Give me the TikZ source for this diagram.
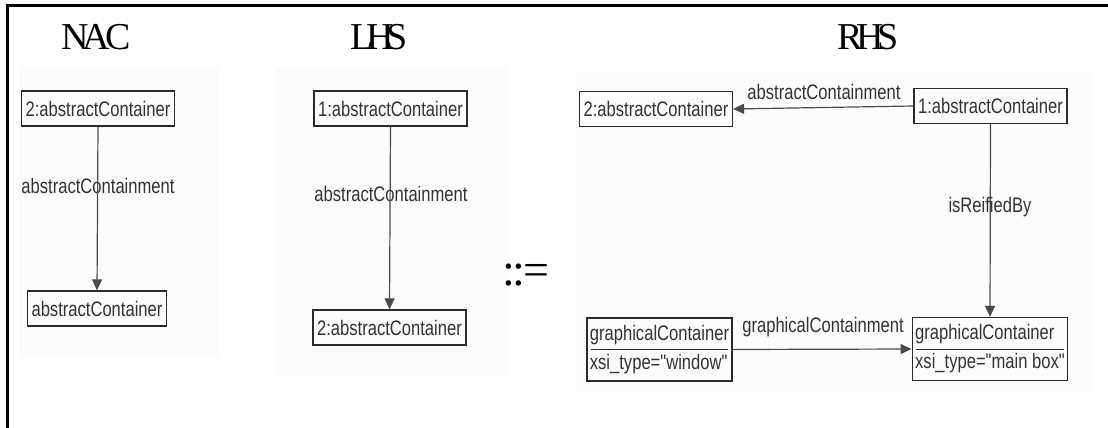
\documentclass[tikz,border=0pt]{standalone}
\usepackage{fontspec}
\usetikzlibrary{arrows.meta}
\newfontfamily\umlfont[FakeStretch=0.79]{Liberation Sans}
\newfontfamily\ttlfont{Liberation Serif}
\definecolor{umltext}{HTML}{333333}
\definecolor{umlline}{HTML}{2A2A2A}
\definecolor{panel}{HTML}{FCFCFC}
\tikzset{
  obj/.style={draw=umlline, line width=1.3pt, text=umltext, inner xsep=4pt, inner ysep=0pt,
    minimum height=35pt, font=\umlfont\fontsize{21}{25}\selectfont},
  attrobj/.style={draw=umlline, line width=1.3pt, text=umltext, inner xsep=3pt, inner ysep=0pt,
    minimum height=63pt, align=left, font=\umlfont\fontsize{21}{29}\selectfont,
    path picture={\draw[umlline, line width=1pt]
      ([xshift=4pt]path picture bounding box.west) -- ([xshift=-4pt]path picture bounding box.east);}},
  lbl/.style={text=umltext, inner sep=0pt, font=\umlfont\fontsize{21}{25}\selectfont},
  ttl/.style={inner sep=0pt, font=\ttlfont\fontsize{38}{40}\selectfont},
  conn/.style={draw=umlline!85, line width=1.2pt, -{Triangle[length=11pt,width=10pt]}}
}
\begin{document}
\begin{tikzpicture}[x=1pt,y=-1pt]
\useasboundingbox (0,0) rectangle (1108,428);
% panels
\fill[panel] (18,66) rectangle (218,358);
\fill[panel] (275,67) rectangle (508,377);
\fill[panel] (575,72) rectangle (1091,392);
% frame (top and left)
\draw[line width=3pt] (7.5,428) -- (7.5,5.5) -- (1108,5.5);
% titles
\node[ttl] (tnac) at (96,37) {N\kern-6pt A\kern-5pt C};
\node[ttl] (tlhs) at (379,37) {L\kern-7pt H\kern-7pt S};
\node[ttl] (trhs) at (868,37) {R\kern-6pt H\kern-7pt S};
% NAC
\node[obj] (n1) at (98,108.5) {2:abstractContainer};
\node[obj] (n2) at (97,308.5) {abstractContainer};
\node[lbl] (nl) at (98,186) {abstractContainment};
\draw[conn] (n1.south) -- (n2.north);
% LHS
\node[obj] (l1) at (390.5,108.5) {1:abstractContainer};
\node[obj] (l2) at (389.5,327.5) {2:abstractContainer};
\node[lbl] (ll) at (391,194) {abstractContainment};
\draw[conn] (l1.south) -- (l2.north);
% ::=
\node[ttl, font=\ttlfont\fontsize{46}{48}\selectfont] (prod) at (526,275) {:\kern-3pt:\kern-1pt=};
% RHS
\node[obj] (r2) at (656,109) {2:abstractContainer};
\node[obj] (r1) at (990.5,106) {1:abstractContainer};
\node[lbl] (rl1) at (824,92) {abstractContainment};
\draw[conn] (r1.west) -- (r2.east);
\node[attrobj] (gl) at (659.5,349.5) {graphicalContainer\\xsi\_type="window"};
\node[attrobj] (gr) at (990,349) {graphicalContainer\\xsi\_type="main box"};
\node[lbl] (rl2) at (990,207) {isReifiedBy};
\draw[conn] (r1.south) -- (gr.north);
\node[lbl] (rl3) at (823,327) {graphicalContainment};
\draw[conn] (gl.east) -- (gr.west);
\end{tikzpicture}
\end{document}
